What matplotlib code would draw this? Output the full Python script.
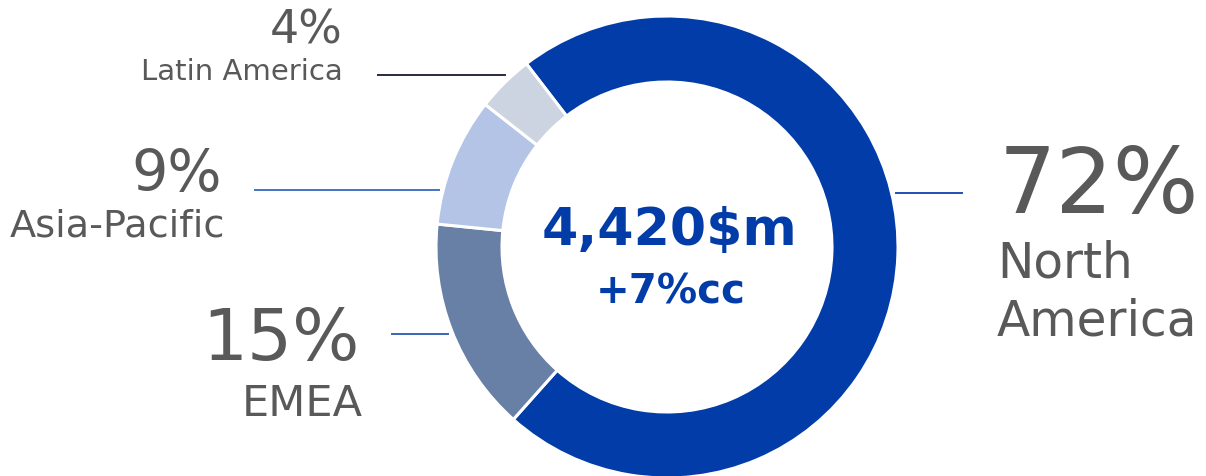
import matplotlib.pyplot as plt

# revenue split by region
regions = ["North America", "EMEA", "Asia-Pacific", "Latin America"]
shares = [72, 15, 9, 4]
total_label = "4,420$m"
growth_label = "+7%cc"

W, H = 1206, 477
colors = ["#023CA8", "#6880A6", "#B3C4E6", "#CDD4E1"]
grey = "#595959"
blue = "#023CA8"


def Y(y):
    # pixel row (from top) -> axes y
    return H - y


fig = plt.figure(figsize=(W / 100, H / 100), dpi=100)
ax = fig.add_axes([0, 0, 1, 1])

cx, cy, r = 667, 248, 231
ax.pie(shares, colors=colors, startangle=127.5, counterclock=False,
       center=(cx, Y(cy)), radius=r,
       wedgeprops=dict(width=66, edgecolor="white", linewidth=2.2))

ax.set_xlim(0, W)
ax.set_ylim(0, H)
ax.set_aspect("auto")
ax.axis("off")

# centre
ax.text(670, Y(245), total_label, ha="center", va="baseline",
        fontsize=37.5, fontweight="bold", color=blue)
ax.text(671, Y(304), growth_label, ha="center", va="baseline",
        fontsize=29, fontweight="bold", color=blue)

# leader lines
ax.plot([896, 962], [Y(194), Y(194)], color="#1F4FB5", lw=1.4)
ax.plot([392, 448], [Y(335), Y(335)], color="#3A64B8", lw=1.4)
ax.plot([255, 439], [Y(191), Y(191)], color="#4472C4", lw=1.4)
ax.plot([378, 505], [Y(76), Y(76)], color="#262B3D", lw=1.4)

# labels
na, emea, ap, la = regions
ax.text(999, Y(213), f"{shares[0]}%", ha="left", va="baseline", fontsize=65, color=grey)
ax.text(997, Y(278), "North", ha="left", va="baseline", fontsize=35, color=grey)
ax.text(997, Y(335), "America", ha="left", va="baseline", fontsize=35, color=grey)

ax.text(360, Y(360), f"{shares[1]}%", ha="right", va="baseline", fontsize=51, color=grey)
ax.text(363, Y(416), emea, ha="right", va="baseline", fontsize=31, color=grey)

ax.text(222, Y(191), f"{shares[2]}%", ha="right", va="baseline", fontsize=41, color=grey)
ax.text(225, Y(237), ap, ha="right", va="baseline", fontsize=27.5, color=grey)

ax.text(343, Y(43), f"{shares[3]}%", ha="right", va="baseline", fontsize=33, color=grey)
ax.text(343, Y(80), la, ha="right", va="baseline", fontsize=21, color=grey)

fig.savefig("out.png", dpi=100)
